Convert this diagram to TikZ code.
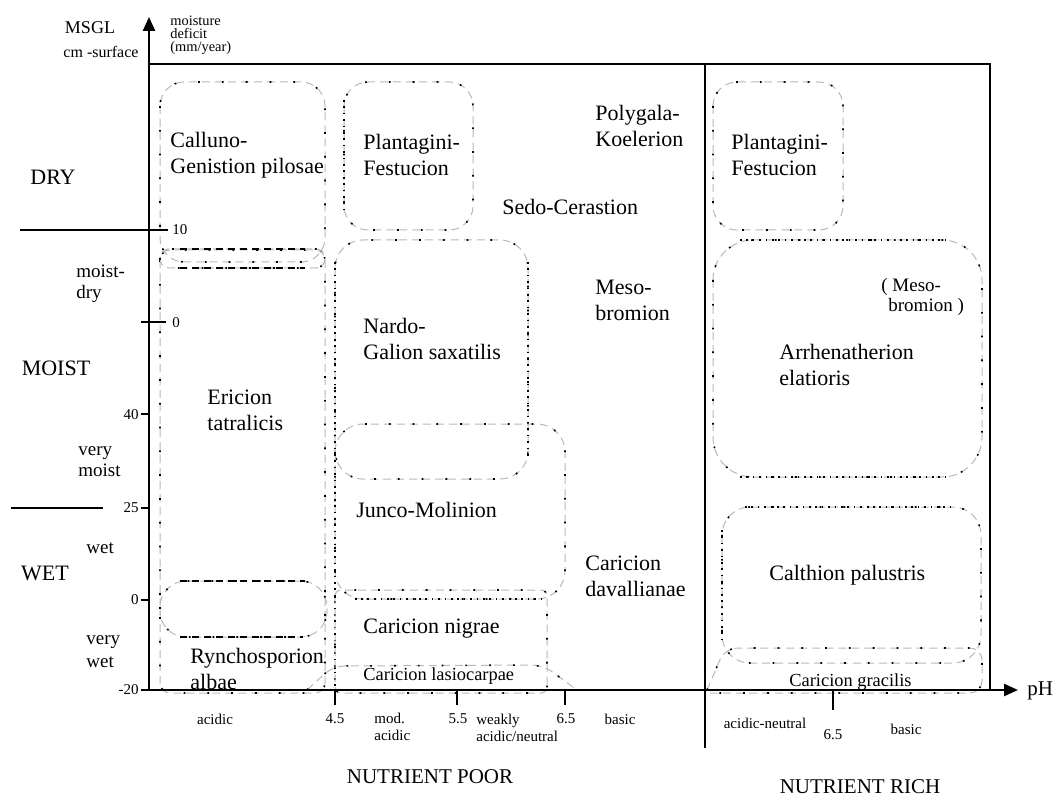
\documentclass[tikz,border=0pt]{standalone}
\usepackage{fontspec}
\setmainfont{Liberation Serif}
\usetikzlibrary{arrows.meta}
\tikzset{
zone/.style={draw=gray!55,dash pattern=on 4pt off 2.5pt,line width=0.5pt,postaction={draw=black,dash pattern=on 0.9pt off 11pt,line width=0.8pt}},
dense/.style={draw=black,dash pattern=on 0.8pt off 2.4pt,line width=0.75pt},
bar/.style={draw=black,dash pattern=on 3.5pt off 2.5pt,line width=1pt},
lab/.style={font=\fontsize{11}{13}\selectfont,align=left,inner sep=0pt},
mid/.style={font=\fontsize{9.5}{10.5}\selectfont,align=left,inner sep=0pt},
tick/.style={font=\fontsize{7.5}{8.5}\selectfont,align=left,inner sep=0pt},
axis/.style={line width=1.2pt}
}
\begin{document}
\begin{tikzpicture}[x=0.5pt,y=-0.5pt]
\useasboundingbox(0,0)rectangle(1053,796);
\draw[zone,rounded corners=12pt](160,82)rectangle(325,262);
\draw[zone,rounded corners=5pt](160,250)rectangle(325,693);
\draw[zone,rounded corners=4.5pt](160,249)rectangle(325,268);
\draw[bar](180,249)--(305,249);
\draw[bar](180,268)--(305,268);
\draw[zone,rounded corners=13pt](160,581)rectangle(327,637);
\draw[bar](180,581)--(305,581);
\draw[bar](180,637)--(303,637);
\draw[zone,rounded corners=12pt](344,82)rectangle(473,230);
\draw[dense](344,100)--(344,213);
\draw[zone,rounded corners=14pt](335,240)rectangle(528,479);
\draw[dense](528,262)--(528,460);
\draw[zone,rounded corners=14pt](335,424)rectangle(565,599);
\draw[dense](355,599)--(545,599);
\draw[dense](335,262)--(335,690);
\draw[zone,rounded corners=3pt](335,590)rectangle(547,693);
\draw[zone,rounded corners=6pt](307,690)--(333,666)--(543,665)--(577,690);
\draw[zone,rounded corners=12pt](713,82)rectangle(843,230);
\draw[zone,rounded corners=20pt](713,240)rectangle(982,477);
\draw[dense](740,240)--(950,240);
\draw[dense](740,477)--(950,477);
\draw[zone,rounded corners=14pt](722,507)rectangle(981,663);
\draw[dense](745,507)--(955,507);
\draw[dense](722,530)--(722,640);
\draw[zone,rounded corners=6pt](707,690)--(725,648)--(982,648)--(982,693)--(707,693);
\draw[axis,-{Triangle[length=7pt,width=6pt]}](149,690)--(149,17);
\draw[axis,-{Triangle[length=7pt,width=6pt]}](149,690)--(1018,690);
\draw[line width=1pt](149,64)--(990,64)--(990,690);
\draw[line width=0.8pt](705,64)--(705,748);
\draw[line width=0.8pt](20,230)--(168,230);
\draw[line width=0.8pt](11,508)--(103,508);
\draw[line width=0.8pt](141,322)--(166,322);
\foreach \y in {414,508,600,690}\draw[line width=0.8pt](141,\y)--(149,\y);
\foreach \x in {335,457,565}\draw[line width=0.8pt](\x,690)--(\x,705);
\draw[line width=0.8pt](833,690)--(833,710);
\node[font=\fontsize{9}{10}\selectfont](msgl)at(90,28){MSGL};
\node[font=\fontsize{8}{9}\selectfont](surf)at(101,52){cm -surface};
\node[font=\fontsize{7.2}{6.6}\selectfont,align=left,inner sep=0pt,anchor=west](deficit)at(170,35){moisture\\deficit\\(mm/year)};
\node[lab](dry)at(53,177){DRY};
\node[mid,anchor=west](moistdry)at(76,283.5){moist-\\dry};
\node[lab](moist)at(56,368){MOIST};
\node[mid,anchor=west](vmoist)at(78,462){very\\moist};
\node[mid,anchor=west](wetl)at(86,548){wet};
\node[lab](wet)at(45,573){WET};
\node[mid,anchor=west,font=\fontsize{9.5}{11.5}\selectfont](vwet)at(86,651.5){very\\wet};
\node[tick,anchor=west](t10)at(172,230){10};
\node[tick,anchor=west](t0a)at(172,323){0};
\node[tick,anchor=east](t40)at(139,415){40};
\node[tick,anchor=east](t25)at(139,508){25};
\node[tick,anchor=east](t0b)at(139,600){0};
\node[tick,anchor=east](t20)at(139,690){-20};
\node[tick](acidic)at(215,719){acidic};
\node[tick](p45)at(335,719){4.5};
\node[tick,anchor=west](modac)at(374,726.5){mod.\\acidic};
\node[tick](p55)at(458,719){5.5};
\node[tick,anchor=west](weakly)at(476,728){weakly\\acidic/neutral};
\node[tick](p65)at(566,719){6.5};
\node[tick](basicl)at(620,719){basic};
\node[tick](acneut)at(765,723){acidic-neutral};
\node[tick](p65r)at(833,735){6.5};
\node[tick](basicr)at(906,729){basic};
\node[font=\fontsize{10.5}{12}\selectfont](poor)at(430,777){NUTRIENT POOR};
\node[font=\fontsize{10.5}{12}\selectfont](rich)at(860,787){NUTRIENT RICH};
\node[font=\fontsize{10.5}{12}\selectfont,anchor=west,inner sep=0pt](ph)at(1027,691){pH};
\node[lab,anchor=west](calluno)at(170,155){Calluno-\\Genistion pilosae};
\node[lab,anchor=west](plantl)at(363,154.5){Plantagini-\\Festucion};
\node[lab,anchor=west](polygala)at(595,125.5){Polygala-\\Koelerion};
\node[lab,anchor=west](sedo)at(502,207){Sedo-Cerastion};
\node[lab,anchor=west](meso)at(595,300.5){Meso-\\bromion};
\node[lab,anchor=west](nardo)at(363,338.5){Nardo-\\Galion saxatilis};
\node[lab,anchor=west](plantr)at(731,154.5){Plantagini-\\Festucion};
\node[mid,anchor=west,font=\fontsize{9.5}{10}\selectfont](mesor)at(881,297){( Meso-\\\hspace*{3.5pt}bromion )};
\node[lab,anchor=west](arrhen)at(779,364.5){Arrhenatherion\\elatioris};
\node[lab,anchor=west](ericion)at(207,410){Ericion\\tatralicis};
\node[lab,anchor=west](junco)at(356,510){Junco-Molinion};
\node[lab,anchor=west](davall)at(585,576){Caricion\\davallianae};
\node[lab,anchor=west](calthion)at(769,575){Calthion palustris};
\node[lab,anchor=west](nigrae)at(363,629){Caricion nigrae};
\node[lab,anchor=west](rynch)at(190,669){Rynchosporion\\albae};
\node[mid,anchor=west,font=\fontsize{9.2}{10}\selectfont](lasio)at(363,676){Caricion lasiocarpae};
\node[mid,anchor=west,font=\fontsize{9.2}{10}\selectfont](gracilis)at(789,682){Caricion gracilis};
\end{tikzpicture}
\end{document}
